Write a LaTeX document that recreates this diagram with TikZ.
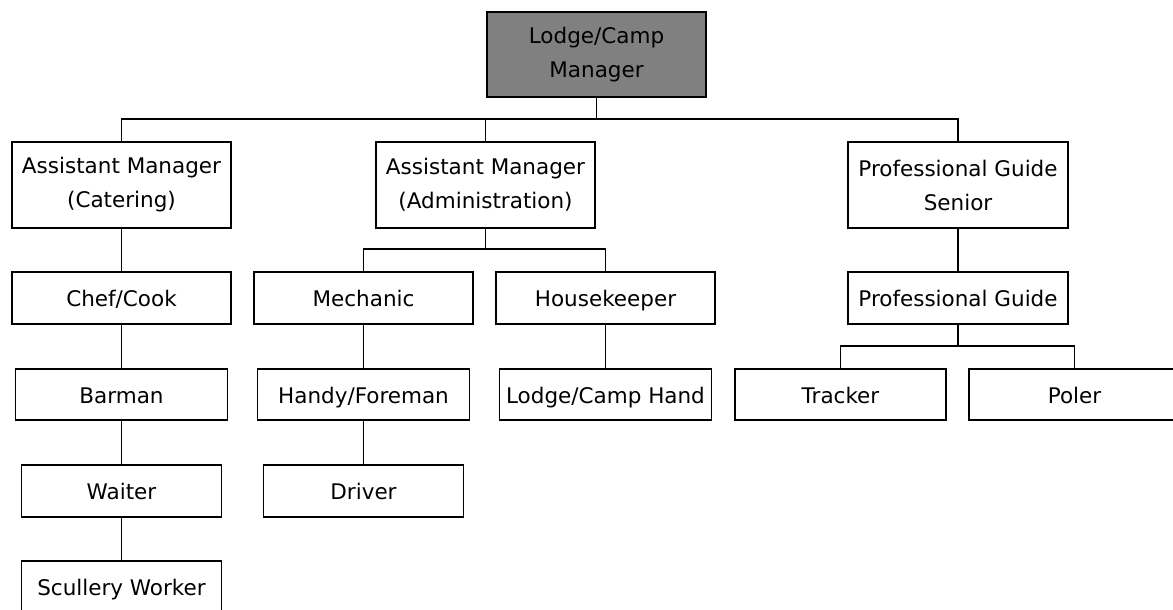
\documentclass[tikz,border=0pt]{standalone}
\usepackage{fontspec}
\setmainfont{DejaVu Sans}
\definecolor{topgray}{HTML}{808080}
\begin{document}
\begin{tikzpicture}[x=1pt,y=-1pt,
  box/.style={draw=black, line width=1.6pt, rectangle, inner sep=0pt, align=center,
    font=\fontsize{21.5}{34}\selectfont},
  oneline/.style={text height=19pt, text depth=2pt},
  conn/.style={draw=black, line width=1.6pt}]
\clip (0,0) rectangle (1173,610);
\fill[white] (0,0) rectangle (1173,610);
% level 0
\node[box, fill=topgray, minimum width=219pt, minimum height=85pt] (top) at (596.5,54.5) {Lodge/Camp\\Manager};
% level 1
\node[box, minimum width=219pt, minimum height=86pt] (cat) at (121.5,185) {Assistant Manager\\(Catering)};
\node[box, minimum width=219pt, minimum height=86pt] (adm) at (485.5,185) {Assistant Manager\\(Administration)};
\node[box, minimum width=220pt, minimum height=86pt] (pgs) at (958,185) {Professional Guide\\Senior};
% level 2
\node[box, oneline, minimum width=219pt, minimum height=52pt] (chef) at (121.5,298) {Chef/Cook};
\node[box, oneline, minimum width=219pt, minimum height=52pt] (mech) at (363.5,298) {Mechanic};
\node[box, oneline, minimum width=219pt, minimum height=52pt] (house) at (605.5,298) {Housekeeper};
\node[box, oneline, minimum width=220pt, minimum height=52pt] (pg) at (958,298) {Professional Guide};
% level 3
\node[box, oneline, minimum width=212pt, minimum height=51pt] (bar) at (121.5,394.5) {Barman};
\node[box, oneline, minimum width=212pt, minimum height=51pt] (handy) at (363.5,394.5) {Handy/Foreman};
\node[box, oneline, minimum width=212pt, minimum height=51pt] (lch) at (605.5,394.5) {Lodge/Camp Hand};
\node[box, oneline, minimum width=211pt, minimum height=51pt] (track) at (840.5,394.5) {Tracker};
\node[box, oneline, minimum width=211pt, minimum height=51pt] (poler) at (1074.5,394.5) {Poler};
% level 4
\node[box, oneline, minimum width=200pt, minimum height=52pt] (wait) at (121.5,491) {Waiter};
\node[box, oneline, minimum width=200pt, minimum height=52pt] (driver) at (363.5,491) {Driver};
% level 5
\node[box, oneline, minimum width=200pt, minimum height=52pt] (scul) at (121.5,587) {Scullery Worker};
% bus coordinates
\coordinate (b0) at (0,119);
\coordinate (b1) at (0,249);
\coordinate (b2) at (0,346);
% connectors
\draw[conn] (top.south) -- (top.south |- b0);
\draw[conn] (cat.north) -- (cat.north |- b0) -- (pgs.north |- b0) -- (pgs.north);
\draw[conn] (adm.north) -- (adm.north |- b0);
\draw[conn] (cat.south) -- (chef.north);
\draw[conn] (chef.south) -- (bar.north);
\draw[conn] (bar.south) -- (wait.north);
\draw[conn] (wait.south) -- (scul.north);
\draw[conn] (adm.south) -- (adm.south |- b1);
\draw[conn] (mech.north) -- (mech.north |- b1) -- (house.north |- b1) -- (house.north);
\draw[conn] (mech.south) -- (handy.north);
\draw[conn] (handy.south) -- (driver.north);
\draw[conn] (house.south) -- (lch.north);
\draw[conn] (pgs.south) -- (pg.north);
\draw[conn] (pg.south) -- (pg.south |- b2);
\draw[conn] (track.north) -- (track.north |- b2) -- (poler.north |- b2) -- (poler.north);
\end{tikzpicture}
\end{document}
